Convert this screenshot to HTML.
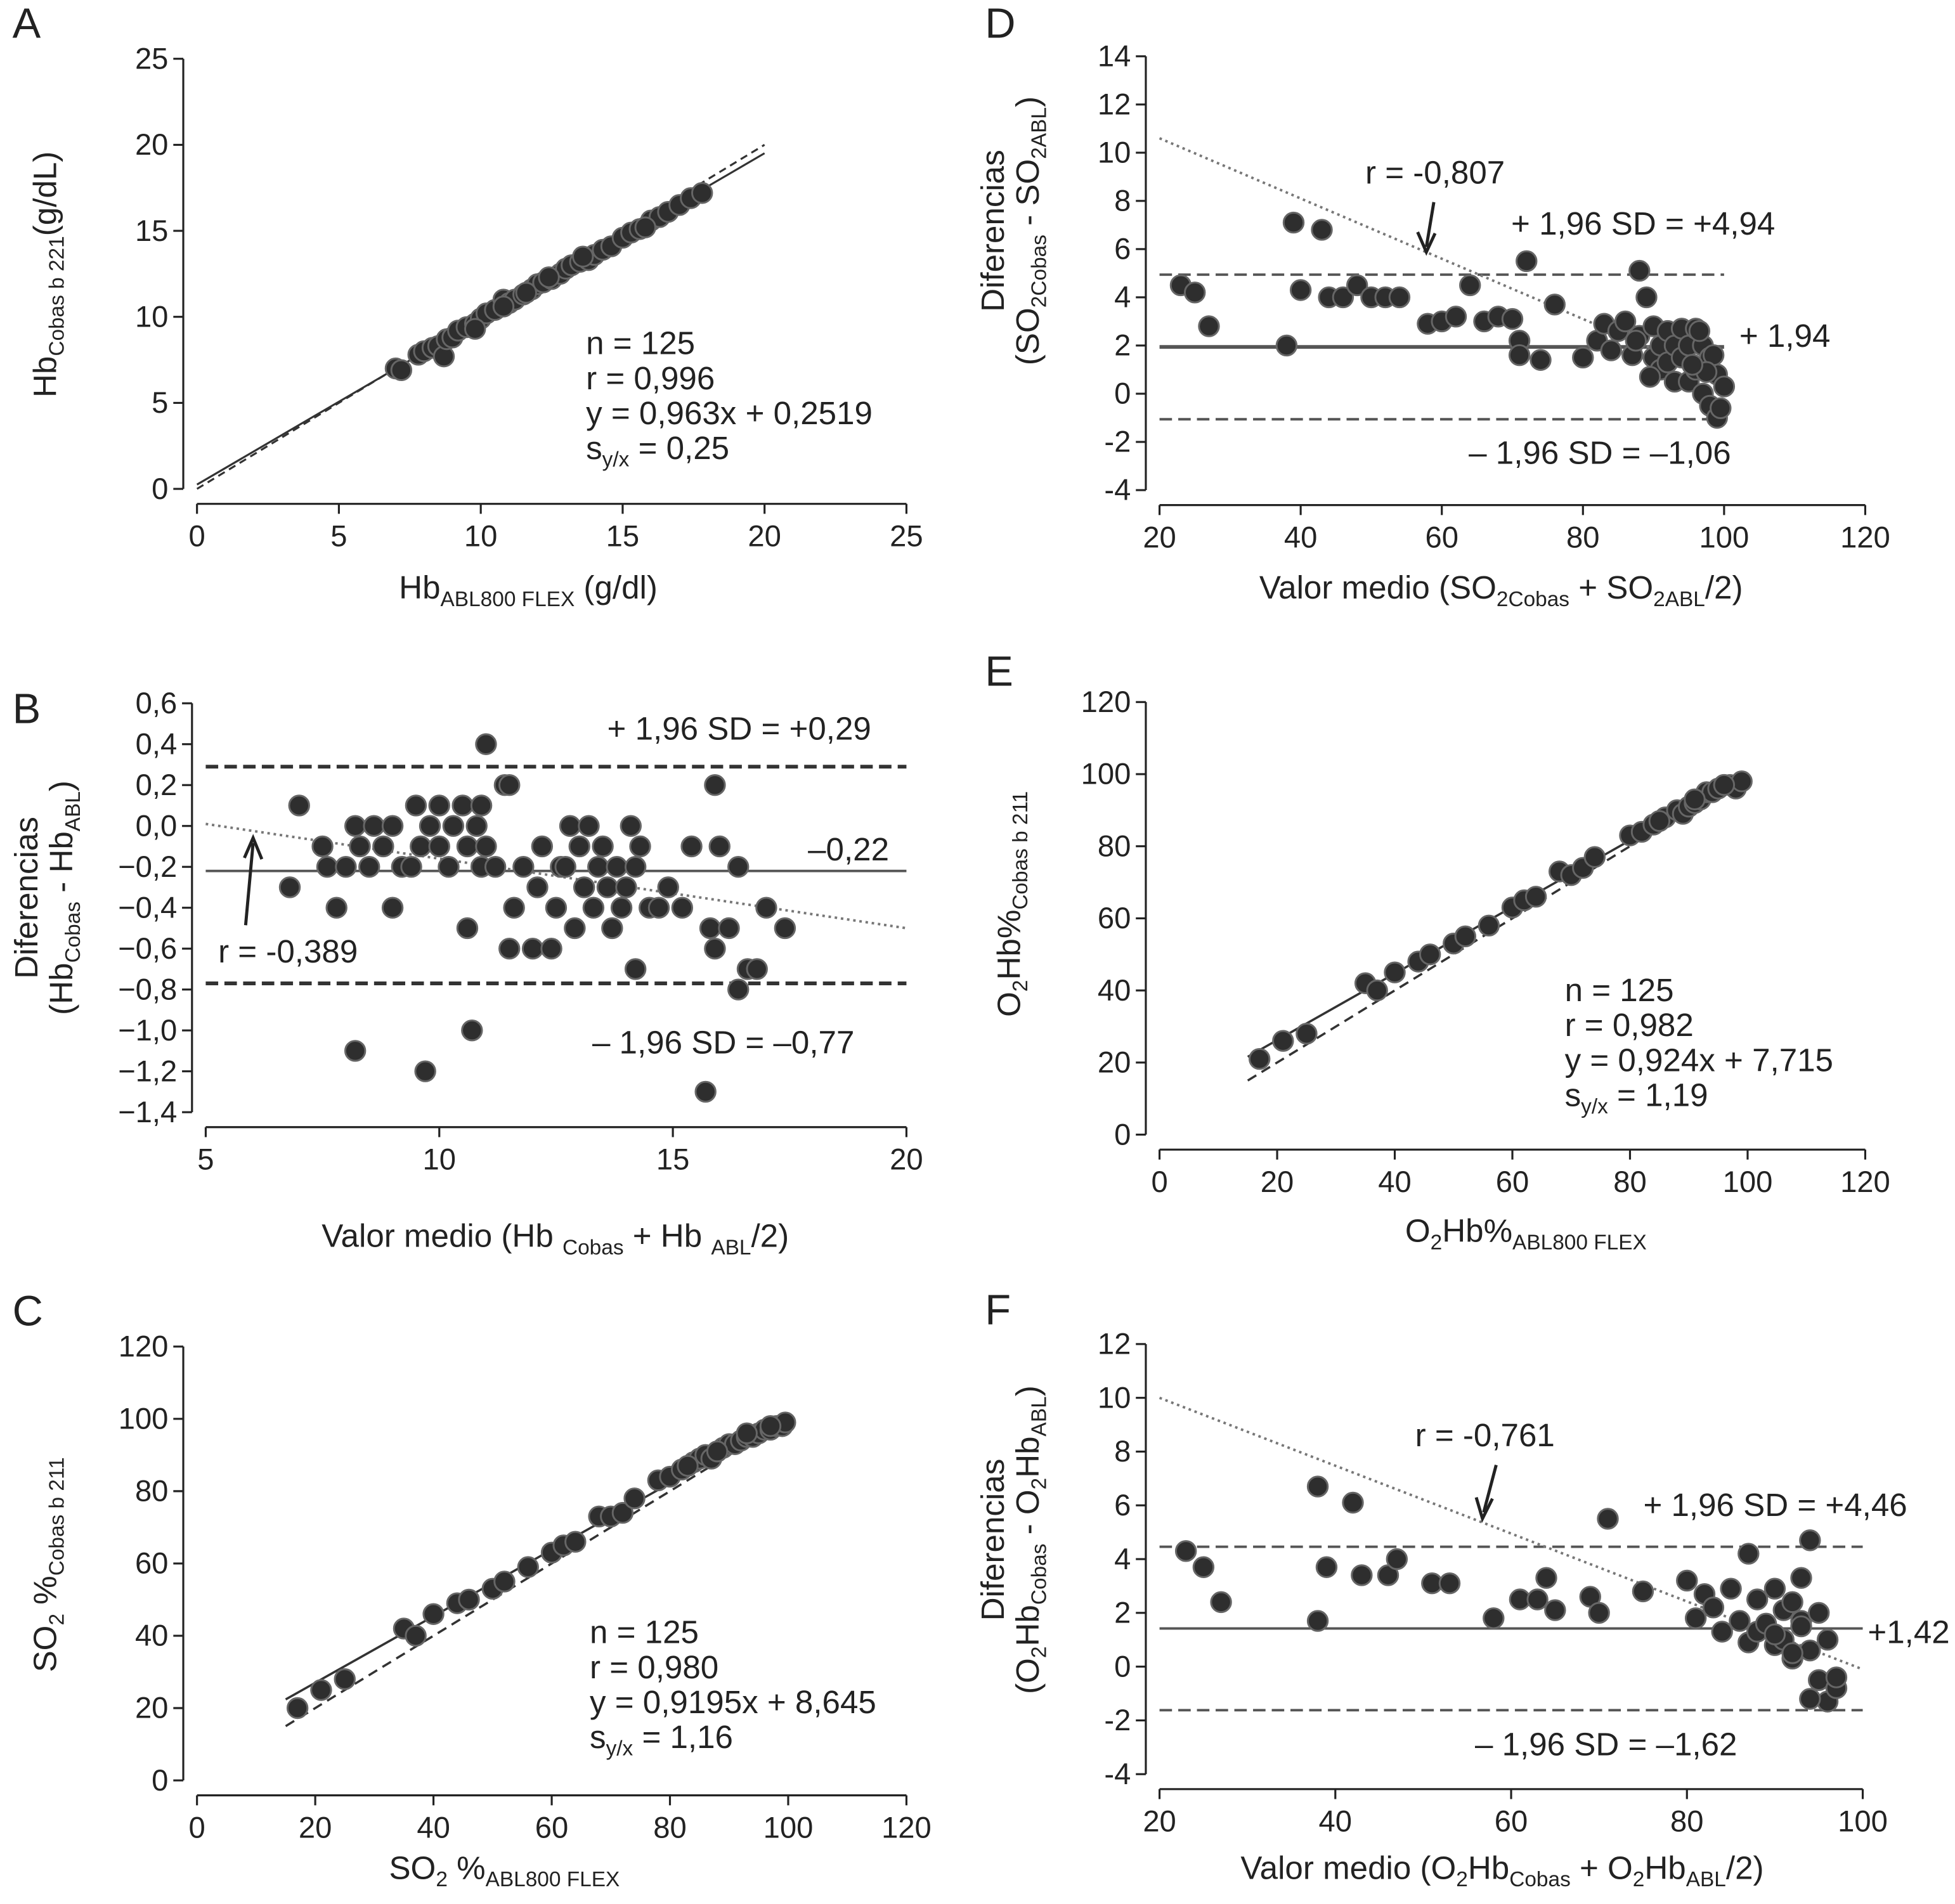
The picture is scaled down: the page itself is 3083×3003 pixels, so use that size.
<!DOCTYPE html>
<html><head><meta charset="utf-8"><style>
html,body{margin:0;padding:0;background:#fff}
svg{display:block}
text{font-family:"Liberation Sans",Arial,sans-serif;fill:#222}
</style></head><body>
<svg id="fig" width="3083" height="3003" viewBox="0 0 1568 1527" xmlns="http://www.w3.org/2000/svg"></svg>
<script>
// ---------- DATA ----------
const aX=[7,7.2,7.8,8,8.3,8.5,8.7,8.8,9,9.2,9.5,9.8,10,10.2,10.5,10.8,11,11.2,11.5,11.8,12,12.2,12.5,12.8,13,13.2,13.5,13.8,14,14.3,14.6,15,15.3,15.6,16,16.3,16.6,17,17.4,17.8,10.8,9.8,12.4,13.6,15.8,11.6];
const aY=[7,6.9,7.8,8,8.2,8.3,7.7,8.7,8.8,9.2,9.4,9.6,9.9,10.2,10.4,11,10.8,11,11.3,11.6,11.9,12,12.2,12.5,12.8,13,13.2,13.3,13.6,13.9,14.1,14.6,14.9,15.1,15.6,15.8,16.1,16.5,16.9,17.2,10.6,9.3,12.3,13.5,15.2,11.4];
const bX=[6.8,7,7.5,7.6,7.8,8,8.2,8.3,8.5,8.6,8.8,9,9,9.2,9.4,9.5,9.6,9.8,10,10,10.2,10.3,10.5,10.6,10.8,10.9,11,11,11.2,11.4,11.5,11.6,11.8,12,12.1,12.2,12.4,12.5,12.6,12.8,12.9,13,13.1,13.2,13.3,13.4,13.5,13.6,13.7,13.8,13.9,14,14.1,14.2,14.3,14.5,14.7,14.9,15.2,15.4,15.8,15.9,16,16.2,16.4,16.6,16.8,17,17.4,8.2,9.7,10.7,15.7,10.9,11.5,14.2,15.9,16.4,10.6,12.7];
const bY=[-0.3,0.1,-0.1,-0.2,-0.4,-0.2,0,-0.1,-0.2,0,-0.1,-0.4,0,-0.2,-0.2,0.1,-0.1,0,0.1,-0.1,-0.2,0,0.1,-0.1,0,-0.2,0.4,-0.1,-0.2,0.2,-0.6,-0.4,-0.2,-0.6,-0.3,-0.1,-0.6,-0.4,-0.2,0,-0.5,-0.1,-0.3,0,-0.4,-0.2,-0.1,-0.3,-0.5,-0.2,-0.4,-0.3,0,-0.2,-0.1,-0.4,-0.4,-0.3,-0.4,-0.1,-0.5,-0.6,-0.1,-0.5,-0.8,-0.7,-0.7,-0.4,-0.5,-1.1,-1.2,-1.0,-1.3,0.1,0.2,-0.7,0.2,-0.2,-0.5,-0.2];
const cX=[17,21,25,35,37,40,44,46,50,52,56,60,62,64,68,70,72,74,78,80,82,84,85,86,87,88,89,90,91,92,93,94,95,96,97,98,99,99.5,83,88,93,97];
const cY=[20,25,28,42,40,46,49,50,53,55,59,63,65,66,73,73,74,78,83,84,86,88,89,90,89,91,92,93,93,94,95,95,96,97,97,98,98,99,87,91,96,98];
const dX=[23,25,27,38,39,40,43,44,46,48,50,52,54,58,60,62,64,66,68,70,71,71,72,74,76,80,82,83,84,85,86,87,88,88,89,90,90,91,91,92,92,93,93,94,94,95,95,96,96,97,97,98,98,99,99,100,99.5,98.5,97.5,96.5,95.5,89.5,87.5];
const dY=[4.5,4.2,2.8,2,7.1,4.3,6.8,4,4,4.5,4,4,4,2.9,3,3.2,4.5,3,3.2,3.1,2.2,1.6,5.5,1.4,3.7,1.5,2.2,2.9,1.8,2.6,3,1.6,5.1,2.4,4,1.5,2.8,2,1,2.6,1.3,2,0.5,2.7,1.5,2,0.5,2.7,1,2,0,1.5,-0.5,0.8,-1,0.3,-0.6,1.6,0.9,2.6,1.2,0.7,2.2];
const eX=[17,21,25,35,37,40,44,46,50,52,56,60,62,64,68,70,72,74,80,82,84,86,88,89,90,91,92,93,94,95,96,97,98,99,85,91,96];
const eY=[21,26,28,42,40,45,48,50,53,55,58,63,65,66,73,72,74,77,83,84,86,88,90,89,91,92,93,95,95,96,97,97,96,98,87,93,97];
const fX=[23,25,27,38,38,39,42,43,46,47,51,53,58,61,63,64,65,69,70,71,75,80,81,82,83,84,85,86,87,87,88,88,89,90,90,91,91,92,92,93,93,94,94,95,95,96,96,97,97,94,93,92,90];
const fY=[4.3,3.7,2.4,1.7,6.7,3.7,6.1,3.4,3.4,4,3.1,3.1,1.8,2.5,2.5,3.3,2.1,2.6,2,5.5,2.8,3.2,1.8,2.7,2.2,1.3,2.9,1.7,4.2,0.9,2.5,1.3,1.6,2.9,0.8,2.1,1,2.4,0.3,3.3,1.7,4.7,0.6,2,-0.5,1,-1.3,-0.8,-0.4,-1.2,1.5,0.5,1.2];

// ---------- HELPERS ----------
const svg=document.getElementById('fig');
const NS='http://www.w3.org/2000/svg';
function mk(tag,attrs,parent){const e=document.createElementNS(NS,tag);for(const k in attrs)e.setAttribute(k,attrs[k]);(parent||svg).appendChild(e);return e;}
function txt(x,y,html,size,anchor,parent){const t=mk('text',{x:x,y:y,'font-size':size||26,'text-anchor':anchor||'start'},parent);t.innerHTML=html;return t;}

function panel(cfg){
  const g=mk('g',{});
  
  
  const sx=v=>cfg.px0+(v-cfg.x0)/(cfg.x1-cfg.x0)*(cfg.px1-cfg.px0);
  const sy=v=>cfg.py0+(v-cfg.y0)/(cfg.y1-cfg.y0)*(cfg.py1-cfg.py0);
  cfg.sx=sx;cfg.sy=sy;
  const ax=cfg.px0-11, ay=cfg.py0+12;
  const yl=mk('line',{x1:ax,y1:sy(cfg.y0),x2:ax,y2:sy(cfg.y1),stroke:'#222','stroke-width':1.6},g);
  
  
  cfg.yt.forEach(v=>{mk('line',{x1:ax-8,y1:sy(v),x2:ax,y2:sy(v),stroke:'#222','stroke-width':1.6},g);
    const t=txt(ax-12,sy(v)+8,cfg.yfmt?cfg.yfmt(v):String(v),24,'end',g);
    
    });
  const xl=mk('line',{x1:sx(cfg.x0),y1:ay,x2:sx(cfg.xt[cfg.xt.length-1]),y2:ay,stroke:'#222','stroke-width':1.6},g);
  
  
  cfg.xt.forEach(v=>{mk('line',{x1:sx(v),y1:ay,x2:sx(v),y2:ay+8,stroke:'#222','stroke-width':1.6},g);
    const t=txt(sx(v),ay+34,String(v),24,'middle',g);
    
    });
  return g;
}
function line(g,p,x1,y1,x2,y2,dash,w,col,name){
  const l=mk('line',{x1:p.sx(x1),y1:p.sy(y1),x2:p.sx(x2),y2:p.sy(y2),stroke:col||'#444','stroke-width':w||2,'stroke-dasharray':dash||'none'},g);
  
  
}
function dots(g,p,xs,ys){
  xs.forEach((x,i)=>{const c=mk('circle',{cx:p.sx(x),cy:p.sy(ys[i]),r:8,fill:'#2e2e2e',stroke:'#666','stroke-width':1.5},g);
    
    });
}
const comma=v=>v.toFixed(1).replace('.',',').replace('-','−');

// ---------- PANEL A ----------
const A={name:'panel-a',x0:0,x1:25,px0:158,px1:727,y0:0,y1:25,py0:392,py1:47,xt:[0,5,10,15,20,25],yt:[0,5,10,15,20,25]};
const gA=panel(A);
line(gA,A,0,0.25,20,19.51,'none',1.6,'#333','regression-line');
line(gA,A,0,0,20,20,'6,4',1.6,'#333','identity-line');
dots(gA,A,aX,aY);
txt(10,30,'A',34,'start',gA);
txt(470,284,'n = 125',26,'start',gA);txt(470,312,'r = 0,996',26,'start',gA);
txt(470,340,'y = 0,963x + 0,2519',26,'start',gA);
txt(470,368,'s<tspan font-size="17" dy="6">y/x</tspan><tspan dy="-6"> = 0,25</tspan>',26,'start',gA);
txt(320,480,'Hb<tspan font-size="17" dy="6">ABL800 FLEX</tspan><tspan dy="-6"> (g/dl)</tspan>',26,'start',gA);
txt(0,0,'Hb<tspan font-size="17" dy="6">Cobas b 221</tspan><tspan dy="-6">(g/dL)</tspan>',26,'middle',gA).setAttribute('transform','translate(45,220) rotate(-90)');

// ---------- PANEL B ----------
const B={name:'panel-b',x0:5,x1:20,px0:165,px1:727,y0:-1.4,y1:0.6,py0:892,py1:564,xt:[5,10,15,20],yt:[-1.4,-1.2,-1,-0.8,-0.6,-0.4,-0.2,0,0.2,0.4,0.6],yfmt:comma};
const gB=panel(B);
line(gB,B,5,0.29,20,0.29,'10,5',3,'#333','upper-limit');
line(gB,B,5,-0.77,20,-0.77,'10,5',3,'#333','lower-limit');
line(gB,B,5,-0.22,20,-0.22,'none',2,'#555','mean-line');
line(gB,B,5,0.01,20,-0.5,'2,3',2,'#777','trend-line');
dots(gB,B,bX,bY);
txt(10,580,'B',34,'start',gB);
txt(487,593,'+ 1,96 SD = +0,29',26,'start',gB);
txt(648,690,'–0,22',26,'start',gB);
txt(475,845,'– 1,96 SD = –0,77',26,'start',gB);
txt(175,772,'r = -0,389',26,'start',gB);
mk('line',{x1:197,y1:742,x2:203,y2:676,stroke:'#222','stroke-width':2.5},gB);
mk('path',{d:'M196,688 L203,672 L210,689',fill:'none',stroke:'#222','stroke-width':2.5},gB);
txt(258,1000,'Valor medio (Hb <tspan font-size="17" dy="6">Cobas</tspan><tspan dy="-6"> + Hb </tspan><tspan font-size="17" dy="6">ABL</tspan><tspan dy="-6">/2)</tspan>',26,'start',gB);
txt(0,0,'Diferencias',26,'middle',gB).setAttribute('transform','translate(30,720) rotate(-90)');
txt(0,0,'(Hb<tspan font-size="17" dy="6">Cobas</tspan><tspan dy="-6"> - Hb</tspan><tspan font-size="17" dy="6">ABL</tspan><tspan dy="-6">)</tspan>',26,'middle',gB).setAttribute('transform','translate(58,720) rotate(-90)');

// ---------- PANEL C ----------
const C={name:'panel-c',x0:0,x1:120,px0:158,px1:727,y0:0,y1:120,py0:1428,py1:1080,xt:[0,20,40,60,80,100,120],yt:[0,20,40,60,80,100,120]};
const gC=panel(C);
line(gC,C,15,22.4,100,100.6,'none',1.8,'#333','regression-line');
line(gC,C,15,15,100,100,'8,5',1.8,'#333','identity-line');
dots(gC,C,cX,cY);
txt(10,1063,'C',34,'start',gC);
txt(473,1318,'n = 125',26,'start',gC);txt(473,1346,'r = 0,980',26,'start',gC);
txt(473,1374,'y = 0,9195x + 8,645',26,'start',gC);
txt(473,1402,'s<tspan font-size="17" dy="6">y/x</tspan><tspan dy="-6"> = 1,16</tspan>',26,'start',gC);
txt(312,1507,'SO<tspan font-size="17" dy="6">2</tspan><tspan dy="-6"> %</tspan><tspan font-size="17" dy="6">ABL800 FLEX</tspan>',26,'start',gC);
txt(0,0,'SO<tspan font-size="17" dy="6">2</tspan><tspan dy="-6"> %</tspan><tspan font-size="17" dy="6">Cobas b 211</tspan>',26,'middle',gC).setAttribute('transform','translate(45,1255) rotate(-90)');

// ---------- PANEL D ----------
const D={name:'panel-d',x0:20,x1:120,px0:930,px1:1496,y0:-4,y1:14,py0:393,py1:45,xt:[20,40,60,80,100,120],yt:[-4,-2,0,2,4,6,8,10,12,14]};
const gD=panel(D);
line(gD,D,20,4.94,100,4.94,'10,5',2,'#555','upper-limit');
line(gD,D,20,-1.06,100,-1.06,'10,5',2,'#555','lower-limit');
line(gD,D,20,1.94,100,1.94,'none',3,'#555','mean-line');
line(gD,D,20,10.6,100,0.6,'2,3',2,'#777','trend-line');
dots(gD,D,dX,dY);
txt(790,30,'D',34,'start',gD);
txt(1095,147,'r = -0,807',26,'start',gD);
mk('line',{x1:1150,y1:162,x2:1144,y2:198,stroke:'#222','stroke-width':2.5},gD);
mk('path',{d:'M1137,186 L1144,202 L1151,187',fill:'none',stroke:'#222','stroke-width':2.5},gD);
txt(1212,188,'+ 1,96 SD = +4,94',26,'start',gD);
txt(1395,278,'+ 1,94',26,'start',gD);
txt(1178,372,'– 1,96 SD = –1,06',26,'start',gD);
txt(1010,480,'Valor medio (SO<tspan font-size="17" dy="6">2Cobas</tspan><tspan dy="-6"> + SO</tspan><tspan font-size="17" dy="6">2ABL</tspan><tspan dy="-6">/2)</tspan>',26,'start',gD);
txt(0,0,'Diferencias',26,'middle',gD).setAttribute('transform','translate(805,185) rotate(-90)');
txt(0,0,'(SO<tspan font-size="17" dy="6">2Cobas</tspan><tspan dy="-6"> - SO</tspan><tspan font-size="17" dy="6">2ABL</tspan><tspan dy="-6">)</tspan>',26,'middle',gD).setAttribute('transform','translate(833,185) rotate(-90)');

// ---------- PANEL E ----------
const E={name:'panel-e',x0:0,x1:120,px0:930,px1:1496,y0:0,y1:120,py0:910,py1:563,xt:[0,20,40,60,80,100,120],yt:[0,20,40,60,80,100,120]};
const gE=panel(E);
line(gE,E,15,21.6,100,100.1,'none',1.8,'#333','regression-line');
line(gE,E,15,15,100,100,'8,5',1.8,'#333','identity-line');
dots(gE,E,eX,eY);
txt(790,550,'E',34,'start',gE);
txt(1255,803,'n = 125',26,'start',gE);txt(1255,831,'r = 0,982',26,'start',gE);
txt(1255,859,'y = 0,924x + 7,715',26,'start',gE);
txt(1255,887,'s<tspan font-size="17" dy="6">y/x</tspan><tspan dy="-6"> = 1,19</tspan>',26,'start',gE);
txt(1127,996,'O<tspan font-size="17" dy="6">2</tspan><tspan dy="-6">Hb%</tspan><tspan font-size="17" dy="6">ABL800 FLEX</tspan>',26,'start',gE);
txt(0,0,'O<tspan font-size="17" dy="6">2</tspan><tspan dy="-6">Hb%</tspan><tspan font-size="17" dy="6">Cobas b 211</tspan>',26,'middle',gE).setAttribute('transform','translate(818,725) rotate(-90)');

// ---------- PANEL F ----------
const F={name:'panel-f',x0:20,x1:100,px0:930,px1:1494,y0:-4,y1:12,py0:1423,py1:1078,xt:[20,40,60,80,100],yt:[-4,-2,0,2,4,6,8,10,12]};
const gF=panel(F);
line(gF,F,20,4.46,100,4.46,'10,5',2,'#555','upper-limit');
line(gF,F,20,-1.62,100,-1.62,'10,5',2,'#555','lower-limit');
line(gF,F,20,1.42,100,1.42,'none',2,'#555','mean-line');
line(gF,F,20,10,100,-0.1,'2,3',2,'#777','trend-line');
dots(gF,F,fX,fY);
txt(790,1062,'F',34,'start',gF);
txt(1135,1160,'r = -0,761',26,'start',gF);
mk('line',{x1:1200,y1:1175,x2:1190,y2:1213,stroke:'#222','stroke-width':2.5},gF);
mk('path',{d:'M1184,1201 L1189,1218 L1197,1202',fill:'none',stroke:'#222','stroke-width':2.5},gF);
txt(1318,1216,'+ 1,96 SD = +4,46',26,'start',gF);
txt(1498,1318,'+1,42',26,'start',gF);
txt(1183,1408,'– 1,96 SD = –1,62',26,'start',gF);
txt(995,1507,'Valor medio (O<tspan font-size="17" dy="6">2</tspan><tspan dy="-6">Hb</tspan><tspan font-size="17" dy="6">Cobas</tspan><tspan dy="-6"> + O</tspan><tspan font-size="17" dy="6">2</tspan><tspan dy="-6">Hb</tspan><tspan font-size="17" dy="6">ABL</tspan><tspan dy="-6">/2)</tspan>',26,'start',gF);
txt(0,0,'Diferencias',26,'middle',gF).setAttribute('transform','translate(805,1235) rotate(-90)');
txt(0,0,'(O<tspan font-size="17" dy="6">2</tspan><tspan dy="-6">Hb</tspan><tspan font-size="17" dy="6">Cobas</tspan><tspan dy="-6"> - O</tspan><tspan font-size="17" dy="6">2</tspan><tspan dy="-6">Hb</tspan><tspan font-size="17" dy="6">ABL</tspan><tspan dy="-6">)</tspan>',26,'middle',gF).setAttribute('transform','translate(833,1235) rotate(-90)');
</script>
</body></html>
